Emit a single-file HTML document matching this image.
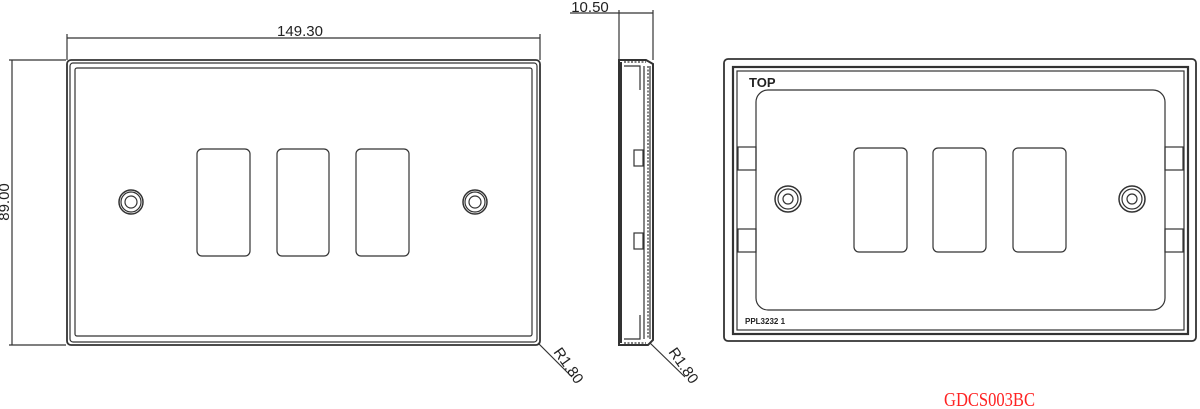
<!DOCTYPE html>
<html><head><meta charset="utf-8"><style>
html,body{margin:0;padding:0;background:#fff;width:1200px;height:409px;overflow:hidden}
svg{display:block}
text{font-family:"Liberation Sans",sans-serif;fill:#222}
</style></head><body>
<svg width="1200" height="409" viewBox="0 0 1200 409" xmlns="http://www.w3.org/2000/svg">
<g fill="none" stroke="#333" stroke-width="1.2">
<!-- Front view -->
<line x1="67" y1="38" x2="540" y2="38"/>
<line x1="67" y1="34" x2="67" y2="60"/>
<line x1="540" y1="34" x2="540" y2="60"/>
<line x1="12" y1="60" x2="12" y2="345"/>
<line x1="9" y1="60" x2="66" y2="60"/>
<line x1="9" y1="345" x2="66" y2="345"/>
<rect x="67" y="60" width="473" height="285" rx="4" stroke-width="1.8"/>
<rect x="70" y="63" width="467" height="279" rx="3"/>
<rect x="75" y="68" width="457" height="268" rx="2"/>
<rect x="197" y="149" width="53" height="107" rx="5"/>
<rect x="277" y="149" width="52" height="107" rx="5"/>
<rect x="356" y="149" width="53" height="107" rx="5"/>
<circle cx="131" cy="202" r="12" stroke-width="1.5"/><circle cx="131" cy="202" r="10"/><circle cx="131" cy="202" r="6"/>
<circle cx="475" cy="202" r="12" stroke-width="1.5"/><circle cx="475" cy="202" r="10"/><circle cx="475" cy="202" r="6"/>
<line x1="538" y1="343" x2="572" y2="377"/>
<!-- Side view -->
<line x1="619" y1="13" x2="653" y2="13"/>
<line x1="619" y1="10" x2="619" y2="60"/>
<line x1="653" y1="10" x2="653" y2="60"/>
<line x1="570" y1="13" x2="619" y2="13"/>
<path d="M619 60 L646 60 L653 64 L653 340 L648 345 L619 345 Z" stroke-width="2"/>
<line x1="621" y1="62" x2="621" y2="343" stroke-width="2"/>
<path d="M624 66 L640 66 L640 90 M624 339 L640 339 L640 315"/>
<path d="M624 62 L646 62 M624 343 L646 343" stroke-dasharray="2,1.5"/>
<line x1="644" y1="66" x2="644" y2="339"/>
<line x1="648" y1="66" x2="648" y2="339" stroke-dasharray="2,1.5"/>
<line x1="650" y1="66" x2="650" y2="339"/>
<rect x="634" y="150" width="9" height="16"/>
<rect x="634" y="233" width="9" height="16"/>
<line x1="650" y1="343" x2="685" y2="377"/>
<!-- Back view -->
<rect x="724" y="59" width="472" height="282" rx="4" stroke-width="1.8"/>
<rect x="733" y="67" width="455" height="267" stroke-width="2.2"/>
<rect x="737" y="71" width="447" height="259"/>
<rect x="756" y="90" width="409" height="220" rx="12"/>
<rect x="854" y="148" width="53" height="104" rx="5"/>
<rect x="933" y="148" width="53" height="104" rx="5"/>
<rect x="1013" y="148" width="53" height="104" rx="5"/>
<circle cx="788" cy="199" r="13" stroke-width="1.5"/><circle cx="788" cy="199" r="10"/><circle cx="788" cy="199" r="5"/>
<circle cx="1132" cy="199" r="13" stroke-width="1.5"/><circle cx="1132" cy="199" r="10"/><circle cx="1132" cy="199" r="5"/>
<rect x="738" y="147" width="18" height="23"/>
<rect x="738" y="229" width="18" height="23"/>
<rect x="1165" y="147" width="18" height="23"/>
<rect x="1165" y="229" width="18" height="23"/>
</g>
<text x="300" y="36" font-size="15" text-anchor="middle">149.30</text>
<text x="0" y="0" font-size="15" text-anchor="middle" transform="translate(9,202) rotate(-90)">89.00</text>
<text x="590" y="12" font-size="15" text-anchor="middle">10.50</text>
<text x="0" y="0" font-size="15" transform="translate(553,352) rotate(55)">R1.80</text>
<text x="0" y="0" font-size="15" transform="translate(668,352) rotate(55)">R1.80</text>
<text x="749" y="87" font-size="13" font-weight="bold">TOP</text>
<text x="745" y="324" font-size="8" font-weight="bold">PPL3232  1</text>
<text x="944" y="406" font-size="20" textLength="91" lengthAdjust="spacingAndGlyphs" style="font-family:'Liberation Serif',serif;fill:#f22">GDCS003BC</text>
</svg>
</body></html>
